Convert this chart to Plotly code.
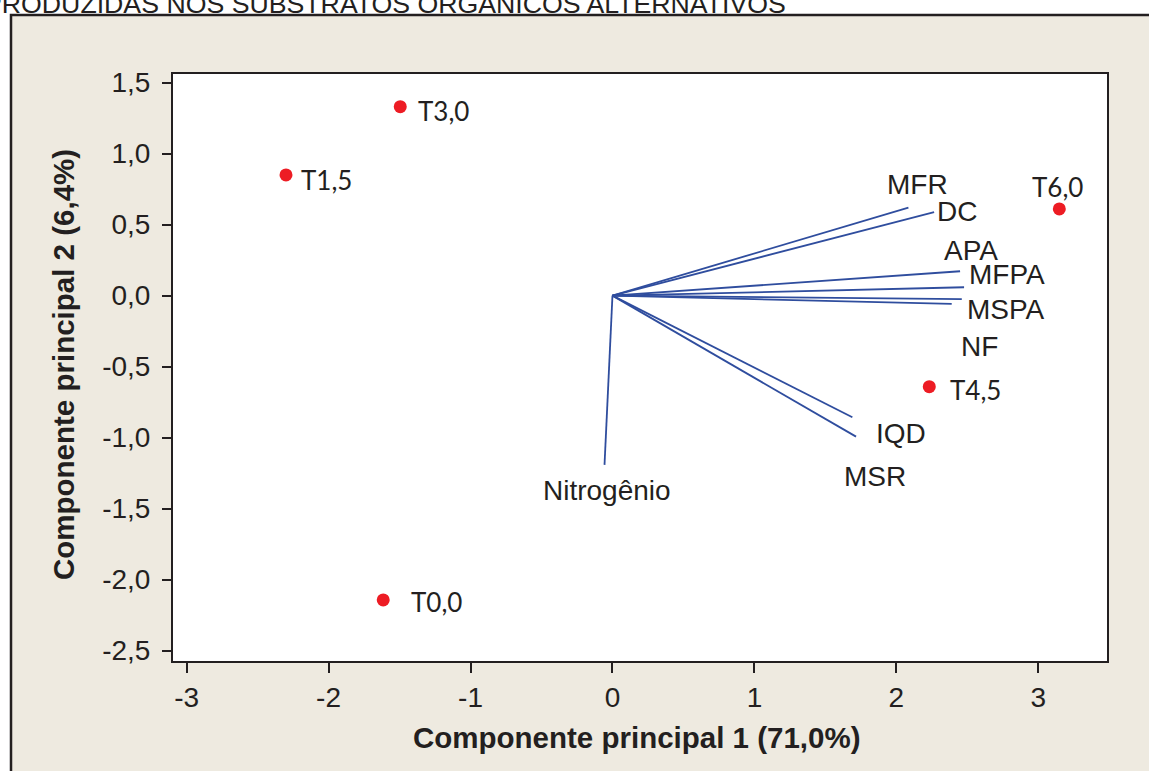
import plotly.graph_objects as go

# Scores of the treatments on the first two principal components
treatments = ["T0,0", "T1,5", "T3,0", "T4,5", "T6,0"]
score_pc1 = [-1.615, -2.30, -1.495, 2.232, 3.148]
score_pc2 = [-2.143, 0.850, 1.331, -0.641, 0.611]

# Loadings (biplot vectors) of the measured variables
variables = ["MFR", "DC", "APA", "MFPA", "MSPA", "NF", "IQD", "MSR", "Nitrogênio"]
load_pc1 = [2.085, 2.266, 2.449, 2.477, 2.461, 2.390, 1.690, 1.716, -0.056]
load_pc2 = [0.620, 0.589, 0.172, 0.059, -0.025, -0.058, -0.856, -0.993, -1.192]

xticks = [-3, -2, -1, 0, 1, 2, 3]
xtick_text = ["-3", "-2", "-1", "0", "1", "2", "3"]
yticks = [1.5, 1.0, 0.5, 0.0, -0.5, -1.0, -1.5, -2.0, -2.5]
ytick_text = ["1,5", "1,0", "0,5", "0,0", "-0,5", "-1,0", "-1,5", "-2,0", "-2,5"]

# label placement (pixel offsets from the vector tip / point)
var_shift = [(9, 23), (23, 1), (11, 21), (43, 13), (44, -10), (28, -43),
             (49, -16), (19, -40), (2, -26)]
trt_shift = [(26, -2, "left"), (13, -5, "left"), (16, -4, "left"),
             (19, -3, "left"), (-2, 22, "center")]

W, H = 1149, 771
ML, MR, MT, MB = 173, 42, 74, 110
PW, PH = W - ML - MR, H - MT - MB

INK = "#231F20"
BEIGE = "#EEEAE0"
BLUE = "#2F4D9E"
RED = "#ED1C24"
SANS = "Liberation Sans, Arial"


def px_x(p):
    return (p - ML) / PW


def px_y(p):
    return (H - MB - p) / PH


fig = go.Figure()

for name, vx, vy in zip(variables, load_pc1, load_pc2):
    fig.add_trace(go.Scatter(x=[0, vx], y=[0, vy], mode="lines",
                             line=dict(color=BLUE, width=1.8),
                             showlegend=False, hoverinfo="skip", name=name))

fig.add_trace(go.Scatter(x=score_pc1, y=score_pc2, mode="markers",
                         marker=dict(color=RED, size=13),
                         showlegend=False, text=treatments))

annotations = []
for name, vx, vy, (dx, dy) in zip(variables, load_pc1, load_pc2, var_shift):
    annotations.append(dict(x=vx, y=vy, xref="x", yref="y", text=name,
                            showarrow=False, xshift=dx, yshift=dy,
                            xanchor="center", yanchor="middle",
                            font=dict(family=SANS, size=28, color=INK)))

for name, sx, sy, (dx, dy, anc) in zip(treatments, score_pc1, score_pc2, trt_shift):
    annotations.append(dict(x=sx, y=sy, xref="x", yref="y", text=name,
                            showarrow=False, xshift=dx, yshift=dy,
                            xanchor=anc, yanchor="middle",
                            font=dict(family="Lato, Open Sans", size=26, color=INK)))

# axis titles
annotations.append(dict(x=px_x(637), y=px_y(737), xref="paper", yref="paper",
                        text="<b>Componente principal 1 (71,0%)</b>", showarrow=False,
                        xanchor="center", yanchor="middle",
                        font=dict(family=SANS, size=29.5, color=INK)))
annotations.append(dict(x=px_x(63), y=px_y(365), xref="paper", yref="paper",
                        text="<b>Componente principal 2 (6,4%)</b>", showarrow=False,
                        textangle=-90, xanchor="center", yanchor="middle",
                        font=dict(family=SANS, size=29.5, color=INK)))

# caption line running along the top edge
annotations.append(dict(x=px_x(-18), y=px_y(4), xref="paper", yref="paper",
                        text="PRODUZIDAS NOS SUBSTRATOS ORGÂNICOS ALTERNATIVOS",
                        showarrow=False, xanchor="left", yanchor="middle",
                        font=dict(family=SANS, size=26.7, color=INK)))

shapes = [
    # white margin outside the graph frame
    dict(type="rect", xref="paper", yref="paper", x0=-1, x1=px_x(11), y0=-1, y1=2,
         fillcolor="white", line=dict(width=0), layer="below"),
    dict(type="rect", xref="paper", yref="paper", x0=-1, x1=2, y0=px_y(15), y1=2,
         fillcolor="white", line=dict(width=0), layer="below"),
    # graph frame
    dict(type="rect", xref="paper", yref="paper", x0=px_x(11), x1=2, y0=-1, y1=px_y(15),
         fillcolor="rgba(0,0,0,0)", line=dict(color=INK, width=2.5), layer="below"),
]

axis_common = dict(showgrid=False, zeroline=False, showline=True, mirror=True,
                   linecolor=INK, linewidth=2, ticks="outside", tickwidth=2,
                   tickcolor=INK, tickfont=dict(family=SANS, size=28, color=INK))

fig.update_layout(
    width=W, height=H,
    margin=dict(l=ML, r=MR, t=MT, b=MB, pad=0),
    paper_bgcolor=BEIGE, plot_bgcolor="white",
    xaxis=dict(range=[-3.096, 3.484], tickvals=xticks, ticktext=xtick_text,
               ticklen=10, **axis_common),
    yaxis=dict(range=[-2.573, 1.561], tickvals=yticks, ticktext=ytick_text,
               ticklen=9, ticklabelstandoff=6, **axis_common),
    annotations=annotations,
    shapes=shapes,
    showlegend=False,
)

fig.write_html("out.html")
